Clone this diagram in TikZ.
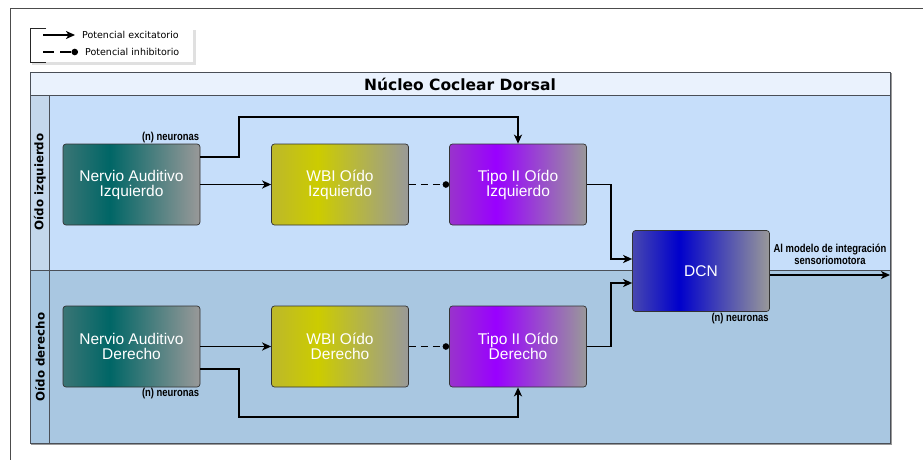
\documentclass[tikz,border=0pt]{standalone}
\usepackage{fontspec}
\setmainfont{Liberation Sans}
\newfontfamily\dejavu{DejaVu Sans}
\newfontfamily\estrecha[FakeStretch=0.82]{Liberation Sans}
\usepackage{tikz}
\usetikzlibrary{arrows.meta, positioning, calc}

\definecolor{gris}{HTML}{999999}
\definecolor{nervL}{HTML}{3A7575}
\definecolor{nervC}{HTML}{006666}
\definecolor{wbiL}{HTML}{BDB82A}
\definecolor{wbiC}{HTML}{CCCC00}
\definecolor{tipoL}{HTML}{9933CC}
\definecolor{tipoC}{HTML}{9900FF}
\definecolor{dcnL}{HTML}{4747B0}
\definecolor{dcnC}{HTML}{0000CC}
\definecolor{carrilA}{HTML}{C6DEFA}
\definecolor{carrilB}{HTML}{A9C7E1}
\definecolor{cabecera}{HTML}{EAF2FD}
\definecolor{celdaA}{HTML}{C4D7EC}
\definecolor{borde}{HTML}{4A4F57}

% sombreados de las cajas (claro - color - gris)
\newcommand{\sombreado}[3]{%
  \pgfdeclarehorizontalshading{#1}{100bp}{color(0bp)=(#2); color(25bp)=(#2);
    color(42bp)=(#3); color(75bp)=(gris); color(100bp)=(gris)}}
\sombreado{somNervio}{nervL}{nervC}
\sombreado{somWbi}{wbiL}{wbiC}
\sombreado{somTipo}{tipoL}{tipoC}
\sombreado{somDcn}{dcnL}{dcnC}

\tikzset{
  caja/.style={draw=black!80, line width=0.7pt, rounded corners=3pt,
    minimum width=137pt, minimum height=81pt, text=white, align=center,
    font=\fontsize{15.5}{15}\selectfont},
  excit/.style={line width=1.6pt, -{Stealth[length=9pt,width=8pt,inset=2.5pt]}},
  inhib/.style={line width=1.6pt, dash pattern=on 7pt off 5pt, -{Circle[length=6.5pt]}},
  etiq/.style={font=\estrecha\bfseries\fontsize{11.5}{12}\selectfont, inner sep=1pt},
  leyenda/.style={font=\dejavu\fontsize{9.5}{11}\selectfont, inner sep=0pt},
  carril/.style={font=\dejavu\bfseries\fontsize{11.8}{13}\selectfont, rotate=90}
}

\begin{document}
\begin{tikzpicture}[x=1pt, y=-1pt]
  \useasboundingbox (0,0) rectangle (923,460);
  %\draw[help lines, step=50] (0,0) grid (923,460);

  % marco exterior
  \draw[black!70, line width=0.8pt] (10,460) -- (10,8) -- (923,8);

  % leyenda
  \fill[black!12] (32,30) rectangle (196,65);
  \fill[white] (30,28) rectangle (193,62);
  \draw[black!85, line width=0.8pt] (46,28) -- (30,28) -- (30,62) -- (46,62);
  \coordinate (ex1) at (43,35);
  \coordinate (ex2) at (75,35);
  \coordinate (in1) at (43,52);
  \coordinate (in2) at (78,52);
  \draw[excit] (ex1) -- (ex2);
  \draw[inhib, dash pattern=on 11pt off 6pt] (in1) -- (in2);
  \node[leyenda, anchor=west] (lex) at (82,35) {Potencial excitatorio};
  \node[leyenda, anchor=west] (lin) at (85,52) {Potencial inhibitorio};

  % piscina y carriles
  \fill[cabecera] (30,72) rectangle (890,95);
  \fill[carrilA] (30,95) rectangle (890,270);
  \fill[carrilB] (30,270) rectangle (890,443);
  \fill[celdaA] (30,95) rectangle (49,270);
  \draw[borde, line width=0.8pt] (30,95) -- (890,95);
  \draw[borde, line width=0.8pt] (30,270) -- (890,270);
  \draw[borde, line width=0.8pt] (49,95) -- (49,443);
  \draw[borde, line width=0.8pt] (30,72) rectangle (890,443);
  \draw[gris, line width=1pt] (891,73) -- (891,444) -- (31,444);

  \node[font=\dejavu\bfseries\fontsize{15.5}{16}\selectfont] (titulo) at (460,84) {Núcleo Coclear Dorsal};
  \node[carril] (izq) at (40,182) {Oído izquierdo};
  \node[carril] (der) at (40,357) {Oído derecho};

  % cajas
  \node[caja, shading=somNervio] (nai) at (131.5,184.5) {Nervio Auditivo\\Izquierdo};
  \node[caja, shading=somWbi] (wbii) at (340,184.5) {WBI Oído\\Izquierdo};
  \node[caja, shading=somTipo] (tipoi) at (518,184.5) {Tipo II Oído\\Izquierdo};
  \node[caja, shading=somNervio] (nad) at (131.5,346.5) {Nervio Auditivo\\Derecho};
  \node[caja, shading=somWbi] (wbid) at (340,346.5) {WBI Oído\\Derecho};
  \node[caja, shading=somTipo] (tipod) at (518,346.5) {Tipo II Oído\\Derecho};
  \node[caja, shading=somDcn] (dcn) at (701,271) {DCN};

  \node[etiq, anchor=south east] (nn1) at (nai.north east) {(n) neuronas};
  \node[etiq, anchor=north east] (nn2) at (nad.south east) {(n) neuronas};
  \node[etiq, anchor=north east] (nn3) at (dcn.south east) {(n) neuronas};
  \node[etiq, align=center] (destino) at (830,254) {Al modelo de integración\\sensoriomotora};
  \coordinate (salida) at (890,275);

  % conexiones
  \draw[excit] (nai) -- (wbii);
  \draw[inhib] (wbii) -- (tipoi);
  \draw[excit] ([yshift=27.5pt]nai.east) -| (239,117) -| (tipoi.north);
  \draw[excit] (tipoi.east) -- (611,184.5) |- ([yshift=12pt]dcn.west);

  \draw[excit] (nad) -- (wbid);
  \draw[inhib] (wbid) -- (tipod);
  \draw[excit] ([yshift=-22.5pt]nad.east) -| (239,417) -| (tipod.south);
  \draw[excit] (tipod.east) -- (611,346.5) |- ([yshift=-12pt]dcn.west);

  \draw[excit] ([yshift=-4pt]dcn.east) -- (salida);
\end{tikzpicture}
\end{document}
